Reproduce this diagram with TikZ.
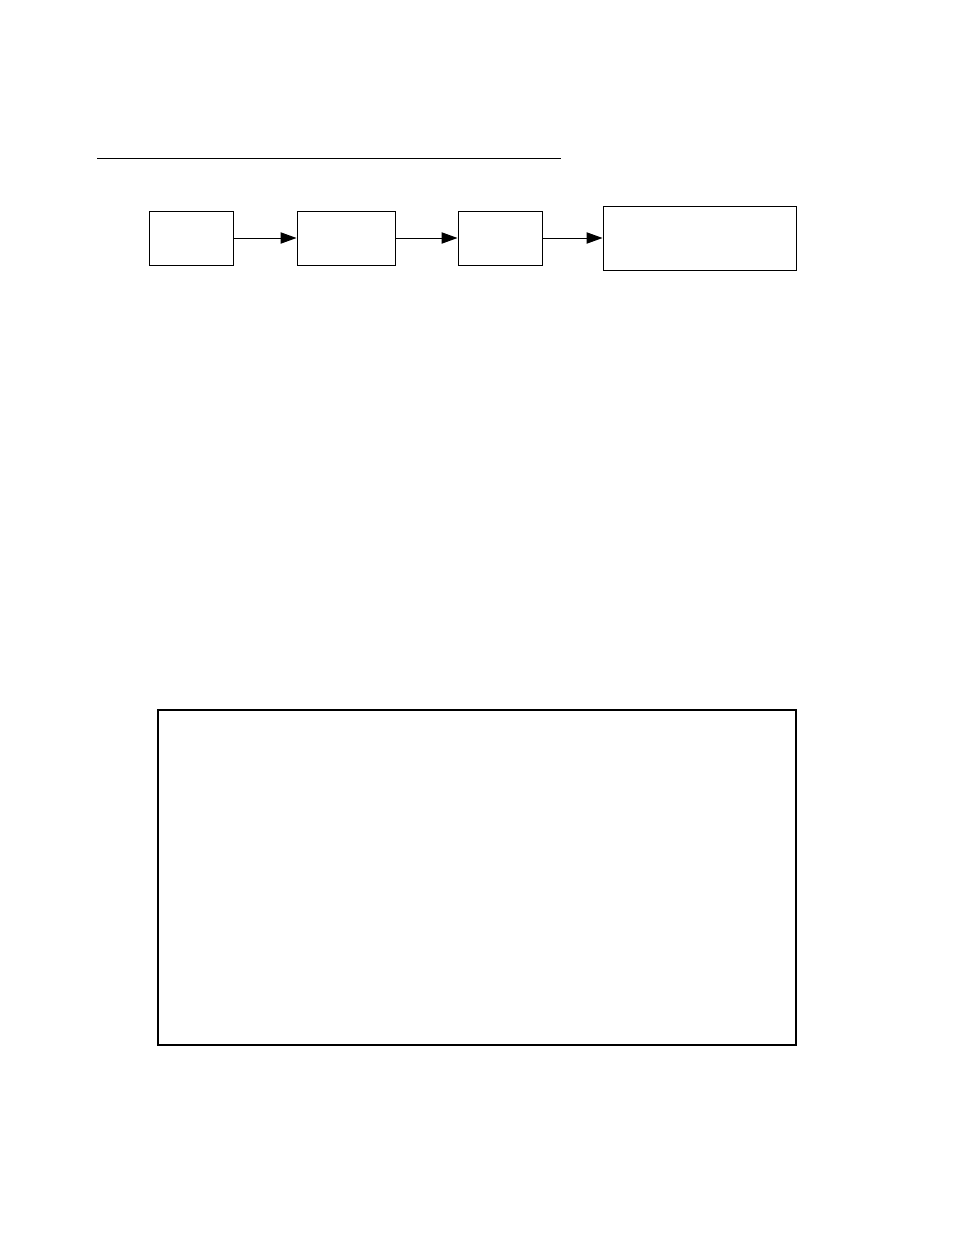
\documentclass[tikz,border=0pt]{standalone}
\usetikzlibrary{arrows.meta}

\begin{document}
\begin{tikzpicture}[x=0.75pt, y=-0.75pt,
        stage/.style={draw, line width=0.75pt, inner sep=0pt, minimum height=40.5pt},
        link/.style={line width=0.75pt, -{Triangle[length=12pt, width=8.5pt]}}]

        \useasboundingbox (0,0) rectangle (954,1235);

        \draw[line width=0.75pt] (97,158) -- (561,158);

        \node [stage, minimum width=63pt] (first) at (191,238) {};
        \node [stage, minimum width=73.5pt] (second) at (346,238) {};
        \node [stage, minimum width=63pt] (third) at (500,238) {};
        \node [stage, minimum width=144.75pt, minimum height=48pt] (last) at (699.5,238) {};

        \draw[link] (first) -- (second);
        \draw[link] (second) -- (third);
        \draw[link] (third) -- (last);

        \node [draw, line width=1.5pt, inner sep=0pt, minimum width=478.5pt, minimum height=251.25pt] (frame) at (477,877.5) {};

      \end{tikzpicture}
\end{document}
